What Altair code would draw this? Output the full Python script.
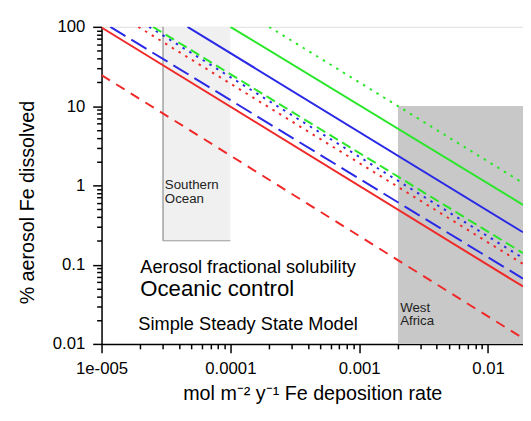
import altair as alt
import pandas as pd

# ---------------- data ----------------
x_domain = [1e-5, 0.0187]
y_domain = [0.01, 100]

x_major = [1e-5, 1e-4, 1e-3, 1e-2]
x_major_labels = ["1e-005", "0.0001", "0.001", "0.01"]
y_major = [0.01, 0.1, 1, 10, 100]
y_major_labels = ["0.01", "0.1", "1", "10", "100"]
minor_multipliers = [2, 3, 4, 5, 6, 7, 8, 9]

series = ["red_solid", "red_dashed", "blue_solid", "blue_dashed", "blue_dotted",
          "red_dotted", "green_dashed", "green_solid", "green_dotted"]
x_start = [1e-5, 1e-5, 4.65e-5, 1.17e-5, 2.34e-5, 1.93e-5, 2.51e-5, 1.0e-4, 2.0e-4]
y_start = [98, 24.6, 100, 100, 100, 100, 100, 100, 100]
x_end = [0.0187, 0.0187, 0.0187, 0.0187, 0.0187, 0.0187, 0.0187, 0.0187, 0.0187]
y_end = [0.053, 0.0118, 0.256, 0.0667, 0.121, 0.102, 0.140, 0.569, 1.07]

region_names = ["Southern Ocean", "West Africa"]
region_x1 = [3.0e-5, 0.002]
region_x2 = [1.0e-4, 0.0187]
region_y1 = [0.2, 0.01]
region_y2 = [100, 10]

label_texts = ["Aerosol fractional solubility", "Oceanic control", "Simple Steady State Model"]
label_x = [2.0e-5, 2.0e-5, 1.93e-5]
label_y = [0.079, 0.0405, 0.0148]

region_label_texts = ["Southern\nOcean", "West\nAfrica"]
region_label_x = [3.1e-5, 2.08e-3]
region_label_y = [0.89, 0.0255]

# ---------------- styles ----------------
colors = {"red": "#f02828", "blue": "#2828e6", "green": "#28e628"}
dashes = {"solid": None, "dashed": [10, 7.5], "dotted": [2.5, 5.5]}
special_dash = {"blue_dashed": [18, 7], "green_dashed": [10, 5]}
FONT = "Liberation Sans"


def label_expr(vals, labels):
    expr = ""
    for v, l in zip(vals, labels):
        expr += f"abs(datum.value - {v!r}) < {v * 1e-6!r} ? '{l}' : "
    return expr + "''"


x_ticks = [m * d for d in x_major for m in [1] + minor_multipliers if m * d <= x_domain[1] * 1.0001]
y_ticks = [m * d for d in y_major for m in [1] + minor_multipliers if m * d <= y_domain[1] * 1.0001]

major_test = "abs(log(datum.value)/LN10 - round(log(datum.value)/LN10)) < 0.001"
tick_size = {"condition": {"test": major_test, "value": 9}, "value": 5}

x_axis = alt.Axis(values=x_ticks, labelExpr=label_expr(x_major, x_major_labels),
                  tickSize=tick_size, tickWidth=1.5, tickColor="black",
                  domainColor="black", domainWidth=1.5, grid=False,
                  labelFont=FONT, labelFontSize=17, labelColor="black",
                  labelPadding=8, labelFlush=False, labelOverlap=False,
                  title="mol m⁻² y⁻¹ Fe deposition rate", titleFont=FONT,
                  titleFontSize=20, titleFontWeight="normal", titleColor="black",
                  titleBaseline="alphabetic", titleY=56)
y_axis = alt.Axis(values=y_ticks, labelExpr=label_expr(y_major, y_major_labels),
                  tickSize=tick_size, tickWidth=1.5, tickColor="black",
                  domainColor="black", domainWidth=1.5, grid=False,
                  labelFont=FONT, labelFontSize=17, labelColor="black",
                  labelPadding=8, labelFlush=False, labelOverlap=False,
                  title="% aerosol Fe dissolved", titleFont=FONT,
                  titleFontSize=20, titleFontWeight="normal", titleColor="black",
                  titleBaseline="alphabetic", titleX=-69, titleY=178, titleAngle=270)

xs = alt.Scale(type="log", domain=x_domain, nice=False)
ys = alt.Scale(type="log", domain=y_domain, nice=False)


def X(field="x"):
    return alt.X(f"{field}:Q", scale=xs, axis=x_axis)


def Y(field="y"):
    return alt.Y(f"{field}:Q", scale=ys, axis=y_axis)


layers = []

# regions
reg_df = pd.DataFrame({"name": region_names, "x": region_x1, "x2": region_x2,
                       "y": region_y1, "y2": region_y2})
layers.append(alt.Chart(reg_df.iloc[[0]]).mark_rect(fill="#f0f0f0").encode(
    x=X(), x2="x2:Q", y=Y(), y2="y2:Q"))
layers.append(alt.Chart(reg_df.iloc[[1]]).mark_rect(fill="#c8c8c8").encode(
    x=X(), x2="x2:Q", y=Y(), y2="y2:Q"))
# Southern Ocean border (left and bottom)
layers.append(alt.Chart(reg_df.iloc[[0]]).mark_rule(color="#777777", strokeWidth=1).encode(
    x=X(), y=Y(), y2="y2:Q"))
layers.append(alt.Chart(reg_df.iloc[[0]]).mark_rule(color="#999999", strokeWidth=1).encode(
    x=X(), x2="x2:Q", y=Y()))

# region labels
rl_df = pd.DataFrame({"t": region_label_texts, "x": region_label_x, "y": region_label_y})
layers.append(alt.Chart(rl_df).mark_text(font=FONT, fontSize=13.5, lineHeight=14, lineBreak="\n",
                                         align="left", baseline="alphabetic", color="#222222").encode(
    x=X(), y=Y(), text="t:N"))

# big labels
lab_df = pd.DataFrame({"t": label_texts, "x": label_x, "y": label_y, "s": [18.5, 22.5, 18.5]})
for i in range(3):
    layers.append(alt.Chart(lab_df.iloc[[i]]).mark_text(
        font=FONT, fontSize=float(lab_df["s"][i]), align="left", baseline="alphabetic",
        color="black").encode(x=X(), y=Y(), text="t:N"))

# lines
for i, name in enumerate(series):
    col, sty = name.split("_")
    df = pd.DataFrame({"x": [x_start[i], x_end[i]], "y": [y_start[i], y_end[i]]})
    kw = dict(color=colors[col], strokeWidth=2, clip=True)
    d = special_dash.get(name, dashes[sty])
    if d is not None:
        kw["strokeDash"] = d
    layers.append(alt.Chart(df).mark_line(**kw).encode(x=X(), y=Y()))

chart = alt.layer(*layers).properties(
    width=428, height=322,
    autosize=alt.AutoSizeParams(type="none"),
    padding={"left": 95, "top": 16, "right": 0, "bottom": 65},
).configure_view(strokeWidth=0).configure(background="white")

chart.save("out.html", embed_options={"renderer": "svg", "actions": False})
